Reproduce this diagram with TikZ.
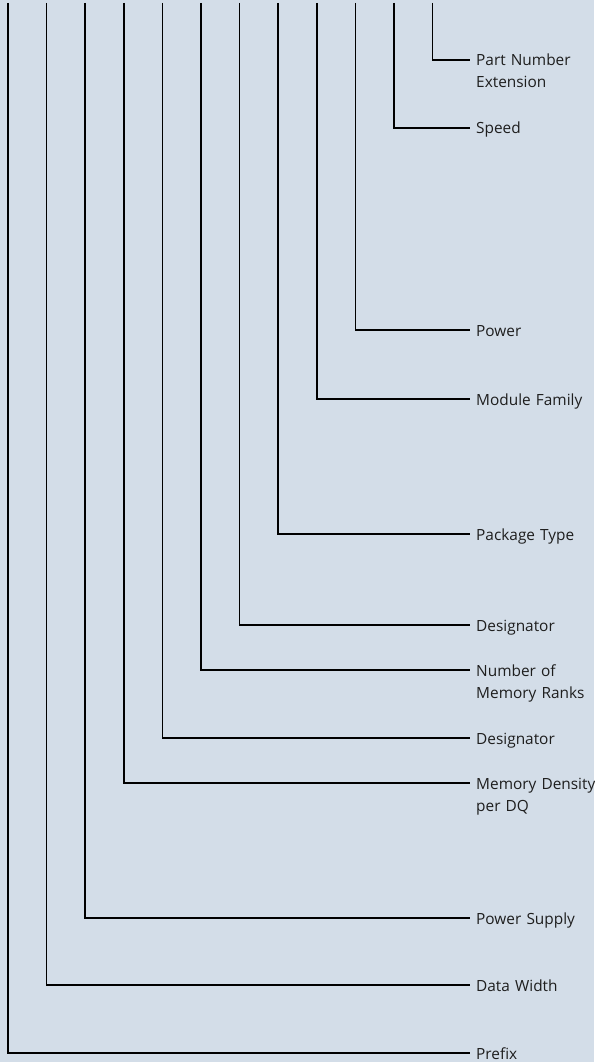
\documentclass[tikz,border=0pt]{standalone}
\usepackage{fontspec}
\setmainfont{Open Sans}
\definecolor{bgblue}{RGB}{211,221,232}
\definecolor{txtgray}{RGB}{30,30,30}
\begin{document}
\begin{tikzpicture}[x=1pt,y=-1pt,
    lead/.style={line width=1.5pt, black},
    field/.style={anchor=base west, inner sep=0pt, text width=130pt, align=left,
        font=\fontsize{15.4}{22}\selectfont, text=txtgray}]
    \fill[bgblue] (0,0) rectangle (594,1062);
    \useasboundingbox (0,0) rectangle (594,1062);
    % tops of the leads
    \coordinate (t0) at (8,3);
    \coordinate (t1) at (46.6,3);
    \coordinate (t2) at (85.2,3);
    \coordinate (t3) at (123.8,3);
    \coordinate (t4) at (162.4,3);
    \coordinate (t5) at (201,3);
    \coordinate (t6) at (239.6,3);
    \coordinate (t7) at (278.2,3);
    \coordinate (t8) at (316.8,3);
    \coordinate (t9) at (355.4,3);
    \coordinate (t10) at (394,3);
    \coordinate (t11) at (432.6,3);
    % field names
    \node[field] (ext) at (476,66) {Part Number\\Extension};
    \node[field] (speed) at (476,134) {Speed};
    \node[field] (power) at (476,336) {Power};
    \node[field] (family) at (476,405) {Module Family};
    \node[field] (package) at (476,540) {Package Type};
    \node[field] (desigb) at (476,631) {Designator};
    \node[field] (ranks) at (476,676) {Number of\\Memory Ranks};
    \node[field] (desiga) at (476,744) {Designator};
    \node[field] (density) at (476,789) {Memory Density\\per DQ};
    \node[field] (supply) at (476,924) {Power Supply};
    \node[field] (width) at (476,991) {Data Width};
    \node[field] (prefix) at (476,1059) {Prefix};
    % leads
    \draw[lead] (t11) |- ([shift={(-6,-6)}]ext.base west);
    \draw[lead] (t10) |- ([shift={(-6,-6)}]speed.base west);
    \draw[lead] (t9) |- ([shift={(-6,-6)}]power.base west);
    \draw[lead] (t8) |- ([shift={(-6,-6)}]family.base west);
    \draw[lead] (t7) |- ([shift={(-6,-6)}]package.base west);
    \draw[lead] (t6) |- ([shift={(-6,-6)}]desigb.base west);
    \draw[lead] (t5) |- ([shift={(-6,-6)}]ranks.base west);
    \draw[lead] (t4) |- ([shift={(-6,-6)}]desiga.base west);
    \draw[lead] (t3) |- ([shift={(-6,-6)}]density.base west);
    \draw[lead] (t2) |- ([shift={(-6,-6)}]supply.base west);
    \draw[lead] (t1) |- ([shift={(-6,-6)}]width.base west);
    \draw[lead] (t0) |- ([shift={(-6,-6)}]prefix.base west);
\end{tikzpicture}
\end{document}
